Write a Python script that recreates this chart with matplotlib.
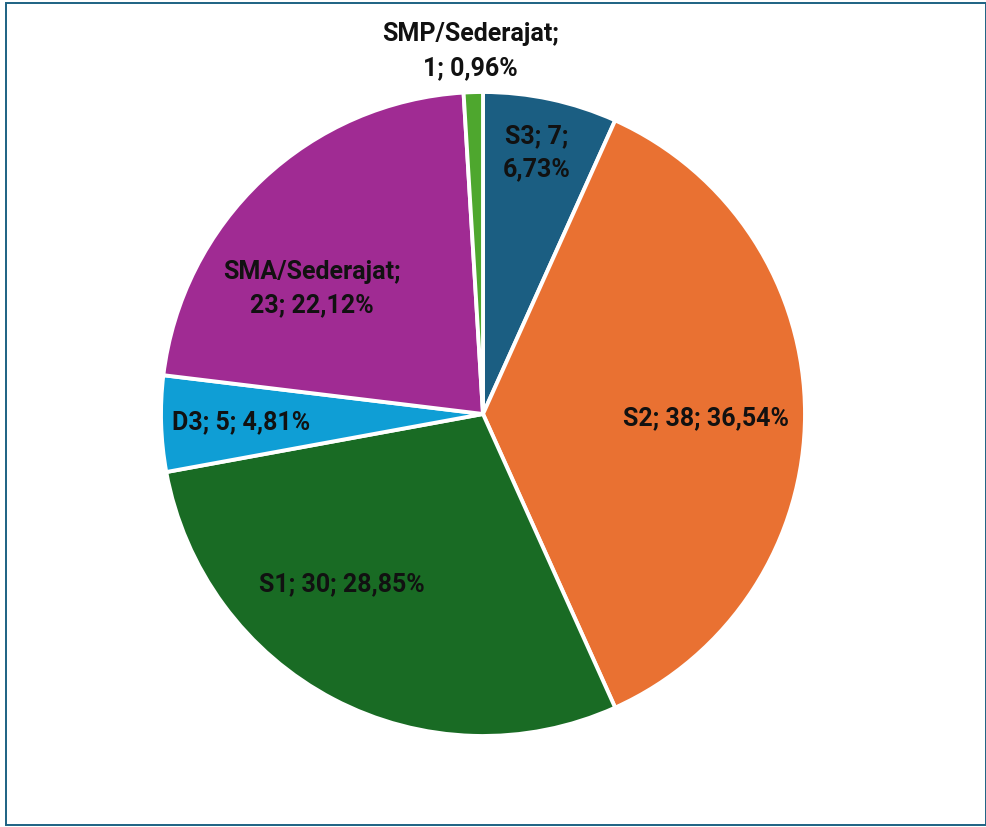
import matplotlib
matplotlib.use("Agg")
import matplotlib.pyplot as plt
from matplotlib.patches import Rectangle

# data (clockwise from 12 o'clock)
categories = ["S3", "S2", "S1", "D3", "SMA/Sederajat", "SMP/Sederajat"]
counts = [7, 38, 30, 5, 23, 1]
colors = ["#1b5e82", "#e97132", "#196b24", "#0f9ed5", "#a02b93", "#4ea72e"]

# label layout: line break after the name?, after the count?, position (axes fraction)
wrap_name = [False, False, False, False, True, True]
wrap_count = [True, False, False, False, False, False]
label_pos = [(0.584, 0.907), (0.846, 0.495), (0.281, 0.238),
             (0.124, 0.489), (0.234, 0.696), (0.481, 1.065)]

plt.rcParams["font.family"] = ["Roboto", "DejaVu Sans"]

fig = plt.figure(figsize=(9.87, 8.28), dpi=100)
ax = fig.add_axes([161 / 987, 1 - 737 / 828, 644 / 987, 644 / 828])

wedges, _ = ax.pie(counts, colors=colors, startangle=90, counterclock=False,
                   radius=1.0, wedgeprops=dict(edgecolor="white", linewidth=2.8))
ax.set_xlim(-1, 1)
ax.set_ylim(-1, 1)
ax.set_aspect("equal")
ax.axis("off")

total = sum(counts)
for i, (cat, n) in enumerate(zip(categories, counts)):
    pct = f"{n / total * 100:.2f}%".replace(".", ",")
    s = cat + ";" + ("\n" if wrap_name[i] else " ") + f"{n};" + ("\n" if wrap_count[i] else " ") + pct
    ax.text(label_pos[i][0], label_pos[i][1], s, transform=ax.transAxes,
            ha="center", va="center", fontsize=18, fontweight="bold",
            color="#111111", linespacing=1.5, clip_on=False)

# frame around the whole chart
fig.patches.append(Rectangle((6 / 987, 2 / 828), 980 / 987, 822 / 828,
                             transform=fig.transFigure, fill=False,
                             edgecolor="#1d6283", linewidth=1.4))

fig.savefig("out.png", dpi=100)
